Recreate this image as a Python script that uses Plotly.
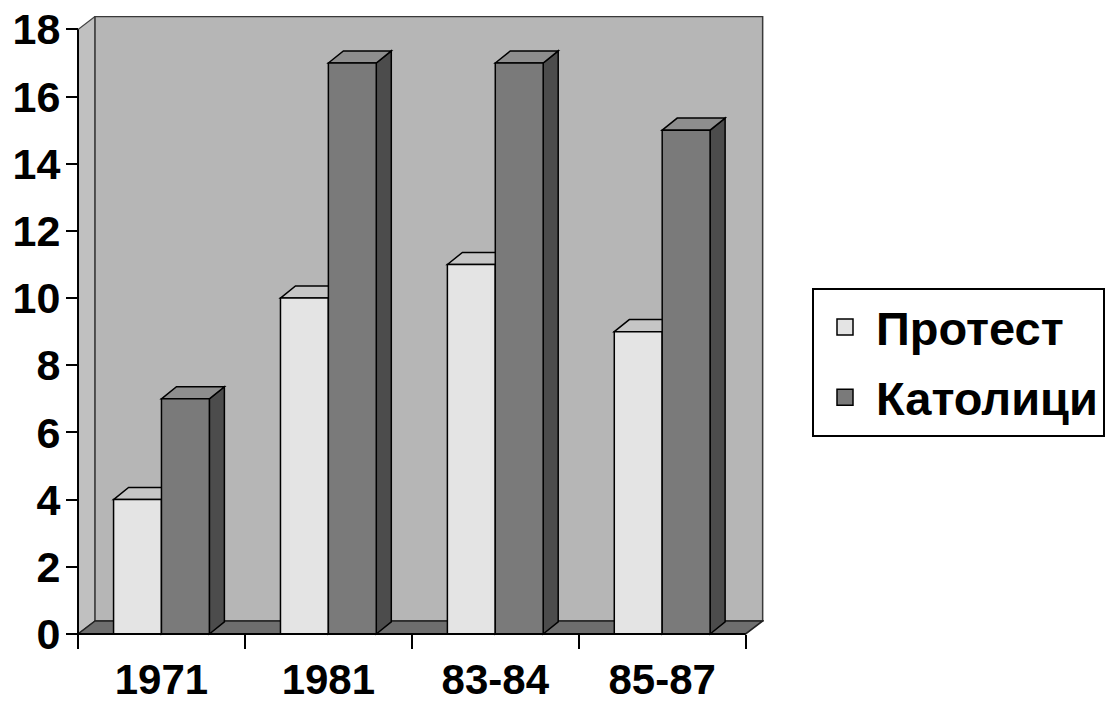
import plotly.graph_objects as go

# ---- data ----
categories = ["1971", "1981", "83-84", "85-87"]
protest = [4, 10, 11, 9]
catholic = [7, 17, 17, 15]
series_names = ["Протест", "Католици"]
y_ticks = [0, 2, 4, 6, 8, 10, 12, 14, 16, 18]

# ---- geometry / style ----
NCAT = len(categories)
YMAX = y_ticks[-1]
x_pos = [i + 0.5 for i in range(NCAT)]
BW = 0.287              # bar width (x units)
BDX, BDY = 0.09, 0.36    # bar depth offset
WDX, WDY = 0.102, 0.387  # wall depth offset
XR = [-0.03, 4.11]
YR = [-0.15, 18.4]

C_PROT = "#e4e4e4"
C_PROT_TOP = "#c6c6c6"
C_PROT_SIDE = "#a8a8a8"
C_CATH = "#7a7a7a"
C_CATH_TOP = "#8e8e8e"
C_CATH_SIDE = "#4c4c4c"
FONT = "Liberation Sans, Arial, sans-serif"


def poly(pts, fill, line_color="black", lw=1.5, layer="below"):
    path = "M " + " L ".join(f"{x},{y}" for x, y in pts) + " Z"
    return dict(type="path", path=path, xref="x", yref="y", fillcolor=fill,
                line=dict(color=line_color, width=lw), layer=layer)


shapes = []
# left wall, back wall, floor
shapes.append(poly([(0, 0), (0, YMAX), (WDX, YMAX + WDY), (WDX, WDY)], "#c0c0c0", "#444", 1.2))
shapes.append(poly([(WDX, WDY), (WDX, YMAX + WDY), (NCAT + WDX, YMAX + WDY), (NCAT + WDX, WDY)],
                   "#b6b6b6", "#3a3a3a", 1.5))
shapes.append(poly([(0, 0), (NCAT, 0), (NCAT + WDX, WDY), (WDX, WDY)], "#6e6e6e", "#222", 1.5))

# 3D faces of bars (computed from the data)
for series, off, ctop, cside in [(protest, -BW, C_PROT_TOP, C_PROT_SIDE),
                                 (catholic, 0.0, C_CATH_TOP, C_CATH_SIDE)]:
    for c, v in zip(x_pos, series):
        x0 = c + off
        x1 = x0 + BW
        shapes.append(poly([(x1, 0), (x1, v), (x1 + BDX, v + BDY), (x1 + BDX, BDY)], cside, "black", 1.5))
        shapes.append(poly([(x0, v), (x0 + BDX, v + BDY), (x1 + BDX, v + BDY), (x1, v)], ctop, "black", 1.5))

# axis lines
shapes.append(dict(type="line", xref="x", yref="y", x0=0, y0=0, x1=NCAT, y1=0,
                   line=dict(color="black", width=2), layer="above"))
shapes.append(dict(type="line", xref="x", yref="y", x0=0, y0=0, x1=0, y1=YMAX,
                   line=dict(color="black", width=2), layer="above"))

fig = go.Figure()
fig.add_trace(go.Bar(x=x_pos, y=protest, offset=-BW, width=BW, name=series_names[0],
                     marker=dict(color=C_PROT, line=dict(color="black", width=1.5)),
                     showlegend=False, hoverinfo="skip"))
fig.add_trace(go.Bar(x=x_pos, y=catholic, offset=0, width=BW, name=series_names[1],
                     marker=dict(color=C_CATH, line=dict(color="black", width=1.5)),
                     showlegend=False, hoverinfo="skip"))
# legend entries
for nm, col, grp in [(series_names[0], C_PROT, "a"), (series_names[1], C_CATH, "b")]:
    fig.add_trace(go.Scatter(x=[None], y=[None], mode="markers", name=nm, legendgroup=grp,
                             marker=dict(symbol="square", size=16, color=col,
                                         line=dict(color="black", width=1.5))))

L, T = 73, 16
W, H = 1106, 704
plot_w = 691
plot_h = 623

fig.update_layout(
    width=W, height=H,
    margin=dict(l=L, r=W - L - plot_w, t=T, b=H - T - plot_h, autoexpand=False),
    paper_bgcolor="white", plot_bgcolor="white",
    barmode="overlay",
    font=dict(family=FONT, color="black", size=44, weight="bold"),
    shapes=shapes,
    xaxis=dict(range=XR, showgrid=False, zeroline=False, showline=False,
               tickvals=x_pos, ticktext=categories, ticks="",
               tickfont=dict(size=42, family=FONT, weight="bold"),
               ticklabelstandoff=17, ticklabeloverflow="allow",
               minor=dict(tickvals=list(range(NCAT + 1)), ticks="outside", ticklen=14,
                          tickwidth=2, tickcolor="black", showgrid=False),
               anchor="free", position=(0 - YR[0]) / (YR[1] - YR[0])),
    yaxis=dict(range=YR, showgrid=False, zeroline=False, showline=False,
               tickvals=y_ticks, ticks="outside", ticklen=12, tickwidth=2, tickcolor="black",
               tickfont=dict(size=43, family=FONT, weight="bold"),
               ticklabelstandoff=-3, ticklabeloverflow="allow",
               anchor="free", position=(0 - XR[0]) / (XR[1] - XR[0])),
    legend=dict(x=(812 - L) / plot_w, y=(T + plot_h - 288) / plot_h, xanchor="left", yanchor="top",
                bordercolor="black", borderwidth=2, bgcolor="white",
                font=dict(size=47, family=FONT, weight="bold"),
                tracegroupgap=6, itemwidth=52),
    showlegend=True,
)

fig.write_html("out.html", config={"displayModeBar": False},
               post_script="document.body.style.margin='0';document.body.style.overflow='hidden';")
